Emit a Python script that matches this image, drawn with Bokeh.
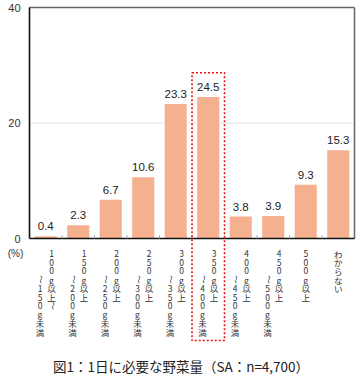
from bokeh.plotting import figure
from bokeh.models import ColumnDataSource, Range1d
from bokeh.core.properties import value
from bokeh.embed import file_html
from bokeh.resources import INLINE

# ---- data ----
categories = ["100g以上～150g未満", "150g以上～200g未満", "200g以上～250g未満",
              "250g以上～300g未満", "300g以上～350g未満", "350g以上～400g未満",
              "400g以上～450g未満", "450g以上～500g未満", "500g以上", "わからない"]
values = [0.4, 2.3, 6.7, 10.6, 23.3, 24.5, 3.8, 3.9, 9.3, 15.3]
value_labels = ["0.4", "2.3", "6.7", "10.6", "23.3", "24.5", "3.8", "3.9", "9.3", "15.3"]
# vertical tick label columns (right column first, as in tategaki)
tick_columns = [["100g以上～", "～150g未満"], ["150g以上", "～200g未満"],
                ["200g以上", "～250g未満"], ["250g以上", "～300g未満"],
                ["300g以上", "～350g未満"], ["350g以上", "～400g未満"],
                ["400g以上", "～450g未満"], ["450g以上", "～500g未満"],
                ["500g以上"], ["わからない"]]
highlight_index = 5
highlight_top = 28.7
y_ticks = [0, 20, 40]
y_tick_labels = ["0", "20", "40"]
y_max = 40
title_text = "図1：1日に必要な野菜量（SA：n=4,700）"
unit_text = "(%)"

# ---- styles / layout (pixels) ----
BAR_COLOR = "#F5B18F"
FONT = "Liberation Sans"
JP_FONT = "Noto Sans CJK JP"
W, H = 358, 376
PAD_L, PAD_R, PAD_T, PAD_B = 29, 4, 7, 138   # chart area inside the canvas
n = len(categories)
px_x = (W - PAD_L - PAD_R) / n
px_y = (H - PAD_T - PAD_B) / y_max

x_range = Range1d(-PAD_L / px_x, n + PAD_R / px_x)
y_range = Range1d(-PAD_B / px_y, y_max + PAD_T / px_y)

p = figure(frame_width=W, frame_height=H, output_backend="svg", toolbar_location=None,
           x_range=x_range, y_range=y_range, min_border=0,
           x_axis_location=None, y_axis_location=None)
p.grid.visible = False
p.outline_line_color = None
p.background_fill_color = "white"

# grid line(s)
inner = [t for t in y_ticks if 0 < t < y_max]
p.segment(x0=[0] * len(inner), x1=[n] * len(inner), y0=inner, y1=inner,
          line_color="#e3e3e3", line_width=1)

xs = [i + 0.5 for i in range(n)]
src = ColumnDataSource(dict(x=xs, top=values, lab=value_labels))
p.vbar(x="x", top="top", width=0.68, source=src, fill_color=BAR_COLOR, line_color=None)

# frame: top/right gray, left/bottom black
p.segment(x0=[0, n], x1=[n, n], y0=[y_max, y_max], y1=[y_max, 0],
          line_color="#666666", line_width=1.5)
p.segment(x0=[0, 0], x1=[0, n], y0=[y_max, 0], y1=[0, 0],
          line_color="#111111", line_width=1.6)
# category boundary ticks
tick_x = list(range(1, n))
p.segment(x0=tick_x, x1=tick_x, y0=[0] * len(tick_x), y1=[3 / px_y] * len(tick_x),
          line_color="#999999", line_width=1)

# value labels
p.text(x="x", y="top", text="lab", source=src, text_align="center",
       text_baseline="bottom", y_offset=-6, text_font=value(FONT),
       text_font_size=value("11.5px"), text_color="#222222")

# y tick labels
p.text(x=[0] * len(y_ticks), y=y_ticks, text=y_tick_labels, x_offset=-9,
       text_align="right", text_baseline="middle", text_font=value(FONT),
       text_font_size=value("11px"), text_color="#333333")

# vertical tick labels, one character per row
ROW0 = 15
ROW_H = 8.7
COL_GAP = 11.5
SECOND_COL_START = 3
cx, cy, ct, ca, cxo = [], [], [], [], []
for i, cols in enumerate(tick_columns):
    ncol = len(cols)
    for j, col in enumerate(cols):
        xoff = (ncol - 1) / 2 * COL_GAP - j * COL_GAP
        start = 0 if j == 0 else SECOND_COL_START
        for k, ch in enumerate(col):
            cx.append(xs[i])
            cy.append(-(ROW0 + (start + k) * ROW_H) / px_y)
            ct.append(ch)
            ca.append(1.5708 if ch == "～" else 0.0)
            cxo.append(xoff)
csrc = ColumnDataSource(dict(x=cx, y=cy, t=ct, a=ca, xo=cxo))
p.text(x="x", y="y", text="t", angle="a", x_offset="xo", source=csrc,
       text_align="center", text_baseline="middle", text_font=value(JP_FONT),
       text_font_size=value("8.5px"), text_color="#333333")

# highlight box
p.quad(left=[highlight_index], right=[highlight_index + 1], top=[highlight_top],
       bottom=[-102 / px_y], fill_alpha=0, line_color="#ee1111", line_width=1.6,
       line_dash="2 2")

# unit and title
p.text(x=[0], y=[0], text=[unit_text], x_offset=-14, y_offset=15,
       text_align="center", text_baseline="middle", text_font=value(FONT),
       text_font_size=value("10px"), text_color="#333333")
p.text(x=[n / 2], y=[0], text=[title_text], x_offset=-11, y_offset=127,
       text_align="center", text_baseline="middle", text_font=value(JP_FONT),
       text_font_size=value("13.5px"), text_color="#222222")

open("out.html", "w").write(file_html(p, INLINE))
